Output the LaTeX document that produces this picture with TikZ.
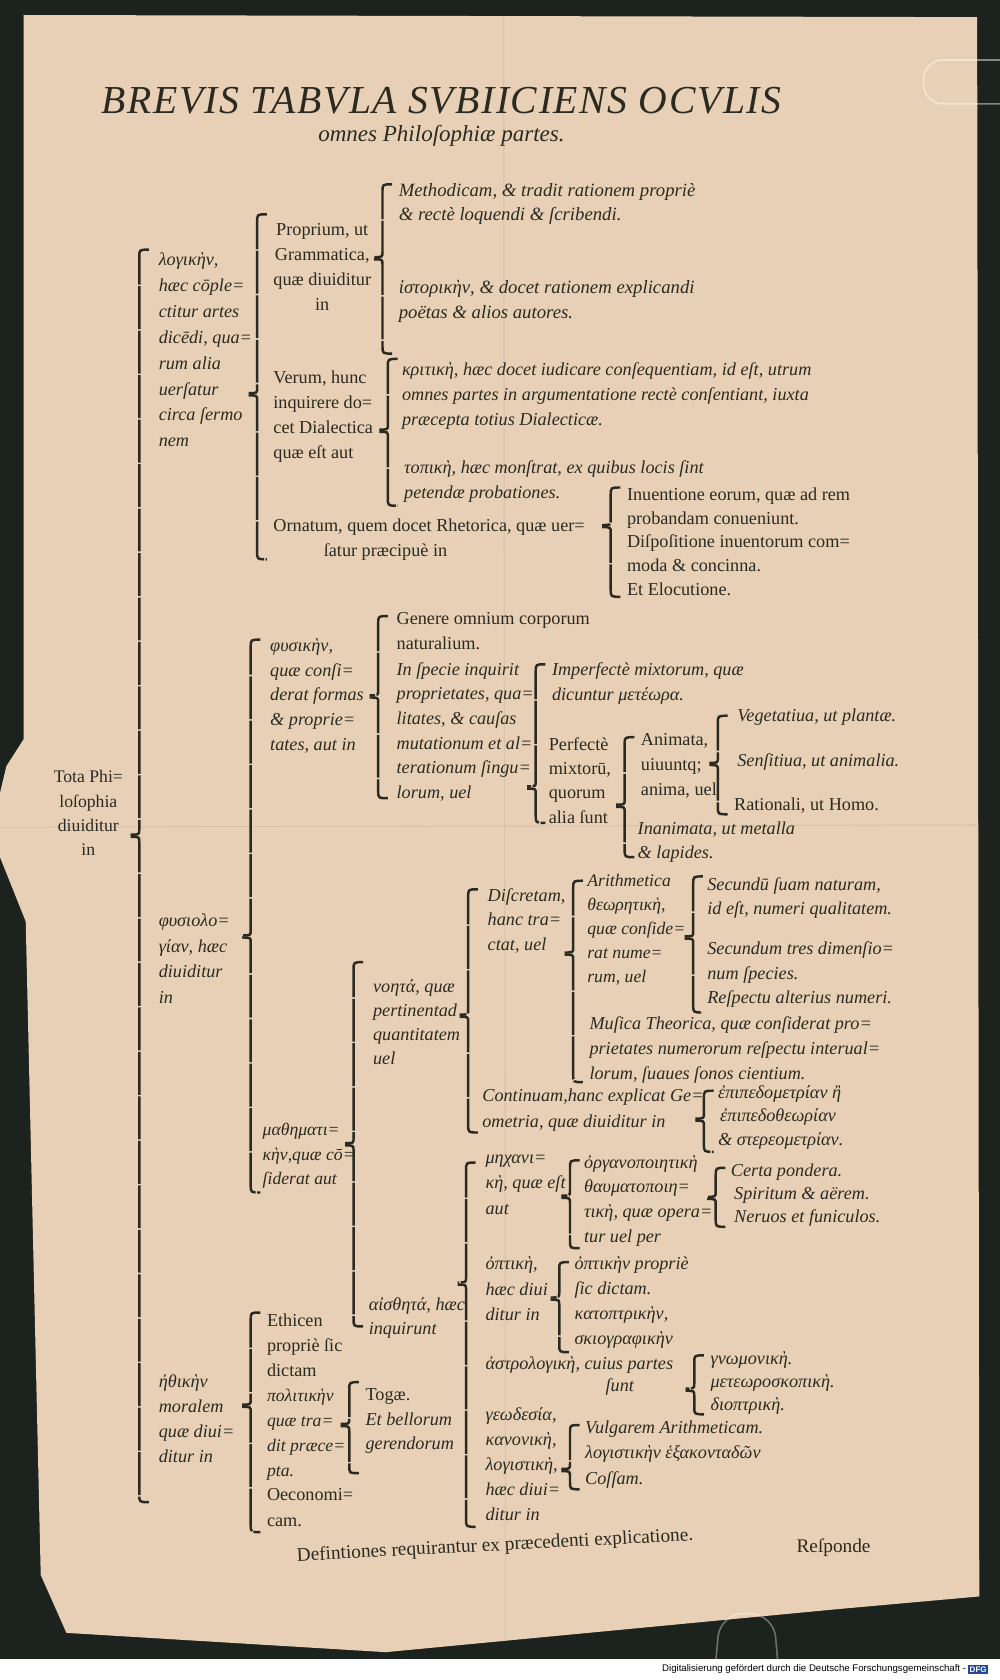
\documentclass[tikz,border=0pt]{standalone}
\usepackage{fontspec}
\setmainfont{Liberation Serif}
\newfontfamily\notefont{Liberation Sans}
\definecolor{paper}{HTML}{E8D0B6}
\definecolor{ink}{HTML}{2B2A20}
\definecolor{board}{HTML}{1C231E}
\definecolor{dfgblue}{HTML}{22479A}
% brace of the table: x, top, tip, bottom
\newcommand{\tabbrace}[4]{%
  \draw[brc] ({#1+9},#2) .. controls (#1,#2) .. (#1,{#2+7}) -- (#1,{#3-6})
    .. controls (#1,{#3-1}) .. ({#1-8},{#3-1});
  \draw[brc] ({#1-8},{#3+1}) .. controls (#1,{#3+1}) .. (#1,{#3+6}) -- (#1,{#4-7})
    .. controls (#1,#4) .. ({#1+9},#4);}

\begin{document}
\begin{tikzpicture}[x=1pt,y=-1pt,
    txt/.style={anchor=north west, inner sep=0pt, align=left, text=ink,
      font=\fontsize{17}{23.3}\selectfont\itshape},
    rom/.style={txt, font=\fontsize{17}{23.3}\selectfont},
    brc/.style={draw=ink, line width=2.3pt, dash pattern=on 40pt off 1.5pt}]
  \useasboundingbox (0,0) rectangle (933,1568);
  \fill[board] (0,0) rectangle (933,1568);
  \fill[white] (0,1548) rectangle (933,1568);
  \fill[paper] (22,14) -- (912,16) -- (914,1490) -- (780,1502) -- (360,1542)
    -- (62,1524) -- (38,1470) -- (24,860) -- (12,830) -- (0,800) -- (0,740)
    -- (6,715) -- (22,690) -- cycle;
  \draw[paper!88!black, opacity=.5, line width=1pt] (470,16) -- (472,1530);
  \draw[paper!88!black, opacity=.5, line width=1pt] (0,772) -- (913,770);
  \draw[white, opacity=.45, line width=1.5pt, rounded corners=18pt]
    (940,56) -- (862,56) -- (862,97) -- (940,97);
  \draw[white, opacity=.35, line width=1.5pt, rounded corners=22pt]
    (668,1552) -- (672,1506) -- (722,1506) -- (726,1552);

  \node[text=ink, font=\fontsize{37}{40}\selectfont\itshape\addfontfeature{LetterSpace=4}]
    (title) at (412,94) {BREVIS TABVLA SVBIICIENS OCVLIS};
  \node[text=ink, font=\fontsize{21.5}{24}\selectfont\itshape] (subtitle) at (412,127)
    {omnes Philoſophiæ partes.};

  \node[rom, align=center, font=\fontsize{16.5}{22.7}\selectfont] (tota) at (50,719)
    {Tota Phi=\\loſophia\\diuiditur\\in};
  \tabbrace{130}{233}{780}{1402}

  \node[txt, font=\fontsize{17}{24.1}\selectfont\itshape] (logica) at (148,236)
    {λογικὴν,\\hæc cōple=\\ctitur artes\\dicēdi, qua=\\rum alia\\uerſatur\\circa ſermo\\nem};
  \node[txt, font=\fontsize{17}{23.7}\selectfont\itshape] (physiologia) at (148,853)
    {φυσιολο=\\γίαν, hæc\\diuiditur\\in};
  \node[txt] (ethica) at (148,1283) {ἠθικὴν\\moralem\\quæ diui=\\ditur in};

  \tabbrace{240}{200}{368}{522}
  \node[rom, align=center] (proprium) at (255,208)
    {Proprium, ut\\Grammatica,\\quæ diuiditur\\in};
  \node[rom] (verum) at (255,346) {Verum, hunc\\inquirere do=\\cet Dialectica\\quæ eſt aut};
  \node[rom] (ornatum) at (255,484)
    {Ornatum, quem docet Rhetorica, quæ uer=\\\hspace*{47pt}ſatur præcipuè in};

  \tabbrace{357}{172}{241}{330}
  \node[txt, font=\fontsize{17.5}{22}\selectfont\itshape] (methodicam) at (372,171)
    {Methodicam, \& tradit rationem propriè\\\& rectè loquendi \& ſcribendi.};
  \node[txt, font=\fontsize{17.5}{23.3}\selectfont\itshape] (historicam) at (372,261)
    {ἱστορικὴν, \& docet rationem explicandi\\poëtas \& alios autores.};

  \tabbrace{362}{335}{402}{472}
  \node[txt] (critice) at (375,338)
    {κριτικὴ, hæc docet iudicare conſequentiam, id eſt, utrum\\omnes partes in argumentatione rectè conſentiant, iuxta\\præcepta totius Dialecticæ.};
  \node[txt] (topice) at (377,430)
    {τοπικὴ, hæc monſtrat, ex quibus locis ſint\\petendæ probationes.};

  \tabbrace{570}{455}{491}{557}
  \node[rom, font=\fontsize{17}{22.5}\selectfont] (inventio) at (585,455)
    {Inuentione eorum, quæ ad rem\\probandam conueniunt.};
  \node[rom, font=\fontsize{17}{22.5}\selectfont] (dispositio) at (585,499)
    {Diſpoſitione inuentorum com=\\moda \& concinna.};
  \node[rom] (elocutio) at (585,544) {Et Elocutione.};

  \tabbrace{234}{597}{874}{1113}
  \node[txt, font=\fontsize{17}{23}\selectfont\itshape] (physica) at (252,596)
    {φυσικὴν,\\quæ conſi=\\derat formas\\\& proprie=\\tates, aut in};
  \node[txt, font=\fontsize{16.5}{23}\selectfont\itshape] (mathematica) at (245,1048)
    {μαθηματι=\\κὴν,quæ cō=\\ſiderat aut};

  \tabbrace{353}{575}{650}{745}
  \node[rom] (genere) at (370,571) {Genere omnium corporum\\naturalium.};
  \node[txt, font=\fontsize{17}{23}\selectfont\itshape] (specie) at (370,618)
    {In ſpecie inquirit\\proprietates, qua=\\litates, \& cauſas\\mutationum et al=\\terationum ſingu=\\lorum, uel};

  \tabbrace{500}{620}{735}{768}
  \node[txt] (imperfecte) at (515,618) {Imperfectè mixtorum, quæ\\dicuntur μετέωρα.};
  \node[rom, font=\fontsize{17}{22.7}\selectfont] (perfecte) at (512,688)
    {Perfectè\\mixtorū,\\quorum\\alia ſunt};

  \tabbrace{583}{688}{752}{800}
  \node[rom] (animata) at (598,684) {Animata,\\uiuuntq;\\anima, uel};
  \node[txt, font=\fontsize{17}{22}\selectfont\itshape] (inanimata) at (595,767)
    {Inanimata, ut metalla\\\& lapides.};

  \tabbrace{670}{668}{713}{760}
  \node[txt] (vegetativa) at (688,661) {Vegetatiua, ut plantæ.};
  \node[txt] (sensitiva) at (688,703) {Senſitiua, ut animalia.};
  \node[rom] (rationalis) at (685,744) {Rationali, ut Homo.};

  \tabbrace{330}{898}{1068}{1238}
  \node[txt, font=\fontsize{17}{22.5}\selectfont\itshape] (noeta) at (348,914)
    {νοητά, quæ\\pertinentad\\quantitatem\\uel};
  \node[txt, font=\fontsize{17}{22}\selectfont\itshape] (aistheta) at (344,1211)
    {αἰσθητά, hæc\\inquirunt};

  \tabbrace{437}{830}{948}{1057}
  \node[txt, font=\fontsize{17}{23}\selectfont\itshape] (discreta) at (455,829)
    {Diſcretam,\\hanc tra=\\ctat, uel};
  \node[txt, font=\fontsize{17}{24}\selectfont\itshape] (continua) at (450,1016)
    {Continuam,hanc explicat Ge=\\ometria, quæ diuiditur in};

  \tabbrace{535}{822}{890}{1010}
  \node[txt, font=\fontsize{16.5}{22.3}\selectfont\itshape] (arithmetica) at (548,816)
    {Arithmetica\\θεωρητικὴ,\\quæ conſide=\\rat nume=\\rum, uel};
  \node[txt, font=\fontsize{17}{23}\selectfont\itshape] (musica) at (550,949)
    {Muſica Theorica, quæ conſiderat pro=\\prietates numerorum reſpectu interual=\\lorum, ſuaues ſonos cientium.};

  \tabbrace{647}{818}{875}{945}
  \node[txt, font=\fontsize{17}{22}\selectfont\itshape] (naturam) at (660,819)
    {Secundū ſuam naturam,\\id eſt, numeri qualitatem.};
  \node[txt] (dimensio) at (660,879) {Secundum tres dimenſio=\\num ſpecies.};
  \node[txt] (respectu) at (660,924) {Reſpectu alterius numeri.};

  \tabbrace{657}{1018}{1045}{1075}
  \node[txt] (epimetria) at (670,1013) {ἐπιπεδομετρίαν ἢ};
  \node[txt] (epitheoria) at (672,1035) {ἐπιπεδοθεωρίαν};
  \node[txt] (stereometria) at (670,1057) {\& στερεομετρίαν.};

  \tabbrace{435}{1085}{1198}{1425}
  \node[txt, font=\fontsize{17}{23.5}\selectfont\itshape] (mechanice) at (453,1078)
    {μηχανι=\\κὴ, quæ eſt\\aut};
  \node[txt, font=\fontsize{17}{23.5}\selectfont\itshape] (optice) at (453,1173)
    {ὀπτικὴ,\\hæc diui\\ditur in};
  \node[txt, font=\fontsize{17}{21}\selectfont\itshape] (astrologice) at (453,1266)
    {ἀστρολογικὴ, cuius partes\\\hspace*{112pt}ſunt};
  \node[txt, font=\fontsize{17}{23.2}\selectfont\itshape] (geodesia) at (453,1314)
    {γεωδεσία,\\κανονικὴ,\\λογιστικὴ,\\hæc diui=\\ditur in};

  \tabbrace{532}{1083}{1117}{1165}
  \node[txt] (organo) at (545,1078) {ὀργανοποιητικὴ};
  \node[txt] (thaumato) at (545,1101) {θαυματοποιη=\\τικὴ, quæ opera=\\tur uel per};

  \tabbrace{668}{1090}{1118}{1145}
  \node[txt] (pondera) at (682,1086) {Certa pondera.};
  \node[txt] (spiritum) at (685,1108) {Spiritum \& aërem.};
  \node[txt] (nervos) at (685,1129) {Neruos et funiculos.};

  \tabbrace{522}{1178}{1212}{1262}
  \node[txt] (optica) at (536,1173) {ὀπτικὴν propriè\\ſic dictam.};
  \node[txt] (catoptrica) at (536,1219) {κατοπτρικὴν,\\σκιογραφικὴν};

  \tabbrace{648}{1265}{1297}{1320}
  \node[txt] (gnomonice) at (663,1261) {γνωμονικὴ.};
  \node[txt] (meteoroscopice) at (663,1283) {μετεωροσκοπικὴ.};
  \node[txt] (dioptrice) at (663,1304) {διοπτρικὴ.};

  \tabbrace{532}{1330}{1372}{1390}
  \node[txt] (vulgarem) at (546,1326) {Vulgarem Arithmeticam.};
  \node[txt] (logisticen) at (546,1349) {λογιστικὴν ἑξακονταδῶν};
  \node[txt] (cossam) at (546,1373) {Coſſam.};

  \tabbrace{234}{1225}{1312}{1430}
  \node[rom, font=\fontsize{17}{23.5}\selectfont] (ethicen) at (249,1226)
    {Ethicen\\propriè ſic\\dictam};
  \node[txt, font=\fontsize{16.5}{23.3}\selectfont\itshape] (politicen) at (249,1296)
    {πολιτικὴν\\quæ tra=\\dit præce=\\pta.};
  \node[rom, font=\fontsize{17}{24}\selectfont] (oeconomicam) at (249,1389)
    {Oeconomi=\\cam.};

  \tabbrace{326}{1290}{1330}{1375}
  \node[rom] (togae) at (341,1296) {Togæ.};
  \node[txt, font=\fontsize{17}{23}\selectfont\itshape] (bellorum) at (341,1318)
    {Et bellorum\\gerendorum};

  \node[text=ink, rotate=3, font=\fontsize{18}{20}\selectfont] (definit) at (462,1443)
    {Defintiones requirantur ex præcedenti explicatione.};
  \node[text=ink, font=\fontsize{18}{20}\selectfont] (responde) at (778,1445) {Reſponde};

  \node[fill=dfgblue, text=white, inner sep=1.5pt, font=\notefont\fontsize{7.5}{8}\selectfont\bfseries]
    (dfg) at (913,1558) {DFG};
  \node[anchor=east, text=black, inner sep=1.5pt, font=\notefont\fontsize{9}{10}\selectfont]
    (dfgnote) at (dfg.west) {Digitalisierung gefördert durch die Deutsche Forschungsgemeinschaft -};
\end{tikzpicture}
\end{document}
